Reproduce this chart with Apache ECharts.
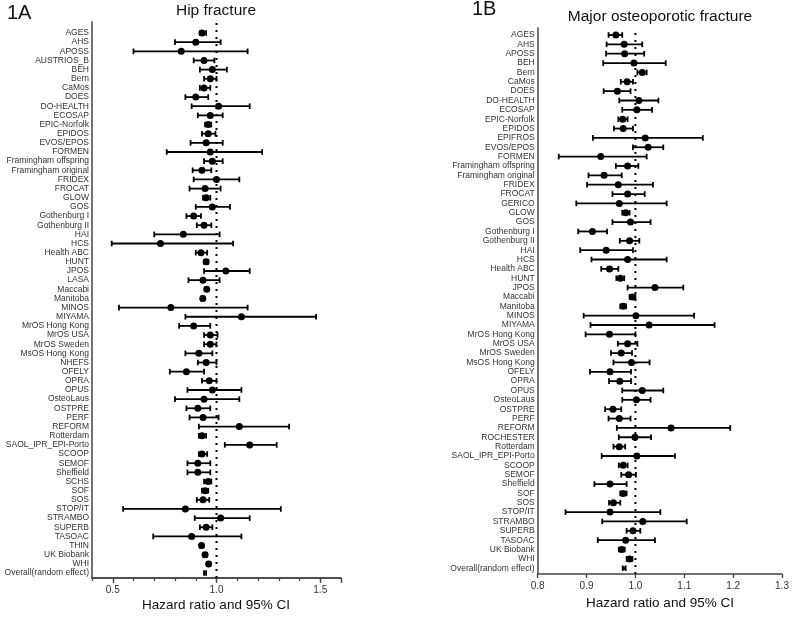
<!DOCTYPE html>
<html>
<head>
<meta charset="utf-8">
<script src="https://cdn.jsdelivr.net/npm/echarts@6/dist/echarts.min.js"></script>
<style>html,body{margin:0;padding:0;background:#fff}#c{width:792px;height:617px}</style>
</head>
<body>
<div id="c"></div>
<script>
// ---------- 1A Hip fracture ----------
const hipNames = ["AGES","AHS","APOSS","AUSTRIOS_B","BEH","Bern","CaMos","DOES","DO-HEALTH","ECOSAP","EPIC-Norfolk","EPIDOS","EVOS/EPOS","FORMEN","Framingham offspring","Framingham original","FRIDEX","FROCAT","GLOW","GOS","Gothenburg I","Gothenburg II","HAI","HCS","Health ABC","HUNT","JPOS","LASA","Maccabi","Manitoba","MINOS","MIYAMA","MrOS Hong Kong","MrOS USA","MrOS Sweden","MsOS Hong Kong","NHEFS","OFELY","OPRA","OPUS","OsteoLaus","OSTPRE","PERF","REFORM","Rotterdam","SAOL_IPR_EPI-Porto","SCOOP","SEMOF","Sheffield","SCHS","SOF","SOS","STOP/IT","STRAMBO","SUPERB","TASOAC","THIN","UK Biobank","WHI","Overall(random effect)"];
const hipHR = [0.93,0.90,0.83,0.94,0.98,0.97,0.94,0.90,1.01,0.97,0.96,0.96,0.95,0.97,0.98,0.93,1.00,0.945,0.95,0.98,0.89,0.94,0.84,0.73,0.925,0.95,1.045,0.935,0.953,0.934,0.78,1.12,0.89,0.97,0.97,0.915,0.95,0.855,0.965,0.98,0.94,0.91,0.935,1.11,0.93,1.16,0.93,0.91,0.91,0.96,0.945,0.935,0.85,1.02,0.95,0.88,0.928,0.945,0.962,0.945];
const hipLo = [0.92,0.80,0.60,0.89,0.92,0.94,0.92,0.85,0.88,0.91,0.945,0.93,0.875,0.76,0.94,0.885,0.89,0.87,0.935,0.90,0.855,0.905,0.70,0.495,0.90,0.94,0.94,0.865,0.945,0.926,0.53,0.85,0.82,0.94,0.94,0.85,0.91,0.775,0.93,0.86,0.80,0.855,0.87,0.915,0.915,1.04,0.915,0.86,0.86,0.94,0.93,0.905,0.55,0.895,0.92,0.695,0.92,0.937,0.954,0.94];
const hipHi = [0.95,1.02,1.15,0.99,1.05,1.00,0.97,0.96,1.16,1.03,0.975,0.995,1.03,1.22,1.03,0.975,1.11,1.02,0.97,1.065,0.925,0.975,1.015,1.08,0.955,0.96,1.16,1.015,0.96,0.942,1.15,1.48,0.97,1.005,1.00,0.98,1.00,0.94,1.00,1.12,1.11,0.97,1.01,1.35,0.95,1.29,0.955,0.97,0.97,0.975,0.96,0.965,1.31,1.16,0.98,1.12,0.936,0.953,0.97,0.95];
const hipTicks = [0.5, 1.0, 1.5];

// ---------- 1B Major osteoporotic fracture ----------
const mofNames = ["AGES","AHS","APOSS","BEH","Bern","CaMos","DOES","DO-HEALTH","ECOSAP","EPIC-Norfolk","EPIDOS","EPIFROS","EVOS/EPOS","FORMEN","Framingham offspring","Framingham original","FRIDEX","FROCAT","GERICO","GLOW","GOS","Gothenburg I","Gothenburg II","HAI","HCS","Health ABC","HUNT","JPOS","Maccabi","Manitoba","MINOS","MIYAMA","MrOS Hong Kong","MrOS USA","MrOS Sweden","MsOS Hong Kong","OFELY","OPRA","OPUS","OsteoLaus","OSTPRE","PERF","REFORM","ROCHESTER","Rotterdam","SAOL_IPR_EPI-Porto","SCOOP","SEMOF","Sheffield","SOF","SOS","STOP/IT","STRAMBO","SUPERB","TASOAC","UK Biobank","WHI","Overall(random effect)"];
const mofHR = [0.960,0.977,0.978,0.997,1.014,0.983,0.963,1.007,1.003,0.974,0.975,1.020,1.026,0.929,0.984,0.936,0.965,0.984,0.967,0.980,0.990,0.912,0.988,0.940,0.984,0.947,0.969,1.040,0.994,0.975,1.001,1.028,0.947,0.984,0.971,0.992,0.948,0.968,1.014,1.002,0.954,0.967,1.073,0.999,0.967,1.003,0.975,0.986,0.948,0.975,0.955,0.948,1.015,0.995,0.980,0.972,0.988,0.977];
const mofLo = [0.945,0.941,0.940,0.934,1.004,0.970,0.935,0.967,0.973,0.965,0.956,0.913,0.995,0.843,0.960,0.904,0.901,0.953,0.879,0.973,0.953,0.883,0.968,0.887,0.910,0.930,0.961,0.984,0.988,0.969,0.894,0.908,0.898,0.964,0.950,0.955,0.907,0.946,0.973,0.973,0.938,0.945,0.962,0.966,0.955,0.931,0.966,0.971,0.916,0.969,0.946,0.857,0.932,0.982,0.923,0.966,0.982,0.974];
const mofHi = [0.973,1.014,1.018,1.062,1.023,0.995,0.990,1.047,1.034,0.984,0.995,1.138,1.057,1.023,1.006,0.972,1.036,1.019,1.064,0.988,1.031,0.942,1.008,0.995,1.064,0.965,0.977,1.098,1.000,0.981,1.120,1.162,1.000,1.004,0.993,1.029,0.991,0.991,1.057,1.031,0.971,0.990,1.194,1.032,0.979,1.081,0.984,1.001,0.982,0.982,0.969,1.051,1.105,1.010,1.040,0.978,0.994,0.980];
const mofTicks = [0.8, 0.9, 1.0, 1.1, 1.2, 1.3];

const refValue = 1.0;

const FONT = '"Liberation Sans", Arial, sans-serif';
const TXT = '#333';
const AX = '#444';

function errSeries(lo, hi, xi, yi) {
  return {
    type: 'custom', xAxisIndex: xi, yAxisIndex: yi,
    encode: { x: [0, 1], y: 2 },
    data: lo.map((v, i) => [v, hi[i], i]),
    renderItem: function (params, api) {
      const a = api.coord([api.value(0), api.value(2)]);
      const b = api.coord([api.value(1), api.value(2)]);
      const h = 2.8;
      const st = { stroke: '#000', lineWidth: 1.8 };
      return { type: 'group', children: [
        { type: 'line', shape: { x1: a[0], y1: a[1], x2: b[0], y2: b[1] }, style: st },
        { type: 'line', shape: { x1: a[0], y1: a[1] - h, x2: a[0], y2: a[1] + h }, style: st },
        { type: 'line', shape: { x1: b[0], y1: b[1] - h, x2: b[0], y2: b[1] + h }, style: st }
      ]};
    },
    silent: true, z: 3
  };
}
function ptSeries(hr, xi, yi) {
  const last = hr.length - 1;
  return {
    type: 'scatter', xAxisIndex: xi, yAxisIndex: yi,
    data: hr.map((v, i) => [v, i]),
    symbol: 'circle',
    symbolSize: (val, p) => p.dataIndex === last ? 3.6 : 7,
    itemStyle: { color: '#000', opacity: 1 },
    silent: true, z: 4
  };
}
function refSeries(xi, yi) {
  return {
    type: 'line', xAxisIndex: xi, yAxisIndex: yi,
    data: [[refValue, 0], [refValue, 1]],
    symbol: 'none', silent: true, z: 2,
    lineStyle: { color: '#000', width: 2, type: [2, 5] }
  };
}

const L = { left: 92, width: 249, ftop: 22, fh: 556, dtop: 28.42, dh: 549.2 };
const R = { left: 537.7, width: 244.3, ftop: 28, fh: 546, dtop: 30.32, dh: 542.6 };

const hiddenY = (gi) => ({ type: 'value', gridIndex: gi, min: 0, max: 1, axisLine: { show: true, lineStyle: { color: AX, width: 1.5 } }, axisTick: { show: false }, axisLabel: { show: false }, splitLine: { show: false } });
const catY = (gi, names) => ({ type: 'category', gridIndex: gi, data: names, inverse: true, axisLine: { show: false }, axisTick: { show: false }, splitLine: { show: false },
  axisLabel: { interval: 0, fontSize: 8.5, color: TXT, margin: 3, fontFamily: FONT } });

const option = {
  animation: false,
  backgroundColor: '#fff',
  grid: [
    { left: L.left, width: L.width, top: L.ftop, height: L.fh, containLabel: false, outerBoundsMode: 'none' },
    { left: L.left, width: L.width, top: L.dtop, height: L.dh, containLabel: false, outerBoundsMode: 'none' },
    { left: R.left, width: R.width, top: R.ftop, height: R.fh, containLabel: false, outerBoundsMode: 'none' },
    { left: R.left, width: R.width, top: R.dtop, height: R.dh, containLabel: false, outerBoundsMode: 'none' }
  ],
  xAxis: [
    { type: 'value', gridIndex: 0, position: 'bottom', min: 0.4, max: 1.6, interval: 0.1,
      axisLine: { show: true, lineStyle: { color: AX, width: 1.5 } },
      axisTick: { show: true, length: 3, lineStyle: { color: AX, width: 1.2 } },
      axisLabel: { show: false },
      splitLine: { show: false } },
    { type: 'value', gridIndex: 0, position: 'bottom', offset: 0, min: 0.4, max: 1.6,
      axisLine: { show: true, lineStyle: { color: AX, width: 1.5 } },
      axisTick: { show: true, customValues: hipTicks.concat([1.6]), length: 5, lineStyle: { color: AX, width: 1.3 } },
      axisLabel: { customValues: hipTicks, formatter: v => v.toFixed(1), fontSize: 10, color: TXT, margin: 7, fontFamily: FONT },
      splitLine: { show: false } },
    { type: 'value', gridIndex: 1, min: 0.4, max: 1.6, show: false, splitLine: { show: false } },
    { type: 'value', gridIndex: 2, position: 'bottom', min: 0.8, max: 1.3, interval: 0.1,
      axisLine: { show: true, lineStyle: { color: AX, width: 1.5 } },
      axisTick: { show: true, customValues: mofTicks, length: 4, lineStyle: { color: AX, width: 1.3 } },
      axisLabel: { customValues: mofTicks, formatter: v => v.toFixed(1), fontSize: 10, color: TXT, margin: 7, fontFamily: FONT },
      splitLine: { show: false } },
    { type: 'value', gridIndex: 3, min: 0.8, max: 1.3, show: false, splitLine: { show: false } }
  ],
  yAxis: [
    hiddenY(0),
    catY(1, hipNames),
    hiddenY(2),
    catY(3, mofNames)
  ],
  series: [
    refSeries(0, 0),
    errSeries(hipLo, hipHi, 2, 1),
    ptSeries(hipHR, 2, 1),
    refSeries(3, 2),
    errSeries(mofLo, mofHi, 4, 3),
    ptSeries(mofHR, 4, 3)
  ],
  graphic: [
    { type: 'text', left: 7, top: 3, style: { text: '1A', font: '20px ' + FONT, fill: '#111' } },
    { type: 'text', x: 216, y: 11, style: { text: 'Hip fracture', font: '15.5px ' + FONT, fill: '#111', textAlign: 'center', textVerticalAlign: 'middle' } },
    { type: 'text', left: 472, top: -1, style: { text: '1B', font: '20px ' + FONT, fill: '#111' } },
    { type: 'text', x: 660, y: 17, style: { text: 'Major osteoporotic fracture', font: '15.5px ' + FONT, fill: '#111', textAlign: 'center', textVerticalAlign: 'middle' } },
    { type: 'text', x: 216, y: 605, style: { text: 'Hazard ratio and 95% CI', font: '13.5px ' + FONT, fill: '#111', textAlign: 'center', textVerticalAlign: 'middle' } },
    { type: 'text', x: 660, y: 603, style: { text: 'Hazard ratio and 95% CI', font: '13.5px ' + FONT, fill: '#111', textAlign: 'center', textVerticalAlign: 'middle' } }
  ]
};

const chart = echarts.init(document.getElementById('c'), null, { renderer: 'canvas' });
chart.setOption(option);
</script>
</body>
</html>
